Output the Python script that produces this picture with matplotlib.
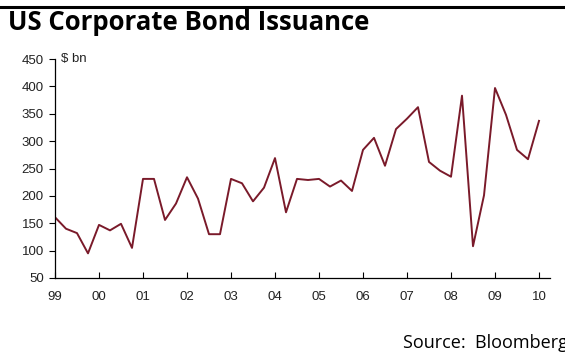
import matplotlib
matplotlib.use("Agg")
import matplotlib.pyplot as plt
from matplotlib.lines import Line2D

# quarterly issuance, 1999Q1 .. 2010Q1 ($bn)
issuance = [
    161, 140, 132, 95,
    147, 137, 149, 105,
    231, 231, 156, 186,
    234, 195, 130, 130,
    231, 223, 190, 215,
    269, 170, 231, 229,
    231, 217, 228, 209,
    284, 306, 255, 322,
    341, 362, 262, 246,
    235, 383, 108, 201,
    397, 348, 284, 267,
    337,
]
year_labels = ["99", "00", "01", "02", "03", "04", "05", "06", "07", "08", "09", "10"]
y_ticks = [50, 100, 150, 200, 250, 300, 350, 400, 450]

line_color = "#7a1a2a"
text_color = "#222222"

fig = plt.figure(figsize=(5.65, 3.54), dpi=100)
ax = fig.add_axes([55 / 565, 1 - 278 / 354, 495 / 565, 219 / 354])

ax.plot(range(len(issuance)), issuance, color=line_color, lw=1.4)

ax.set_xlim(0, 45)
ax.set_ylim(50, 450)
ax.set_yticks(y_ticks)
ax.set_xticks([4 * i for i in range(len(year_labels))])
ax.set_xticklabels(year_labels)

for s in ["top", "right"]:
    ax.spines[s].set_visible(False)
for s in ["left", "bottom"]:
    ax.spines[s].set_linewidth(0.9)
    ax.spines[s].set_color("black")

ax.tick_params(axis="y", direction="out", length=4, width=0.8,
               labelsize=9.5, labelcolor=text_color, pad=4)
ax.tick_params(axis="x", direction="in", length=4, width=0.8,
               labelsize=9.5, labelcolor=text_color, pad=9)
for lab in ax.get_xticklabels() + ax.get_yticklabels():
    lab.set_family("Liberation Sans")

ax.text(0.013, 1.0, "$ bn", transform=ax.transAxes, fontsize=9.5,
        family="Liberation Sans", color=text_color, va="center", ha="left")

# top rule and title
fig.add_artist(Line2D([0, 1], [1 - 6.5 / 354, 1 - 6.5 / 354], transform=fig.transFigure,
                      color="black", lw=2.2))
fig.text(8 / 565, 1 - 23 / 354, "US Corporate Bond Issuance", fontsize=18.5,
         fontweight="bold", family="Open Sans", color="black", va="center", ha="left")

fig.text(403 / 565, 1 - 348 / 354, "Source:  Bloomberg", fontsize=13,
         family="Open Sans", color="black", va="baseline", ha="left")

fig.savefig("out.png", dpi=100)
